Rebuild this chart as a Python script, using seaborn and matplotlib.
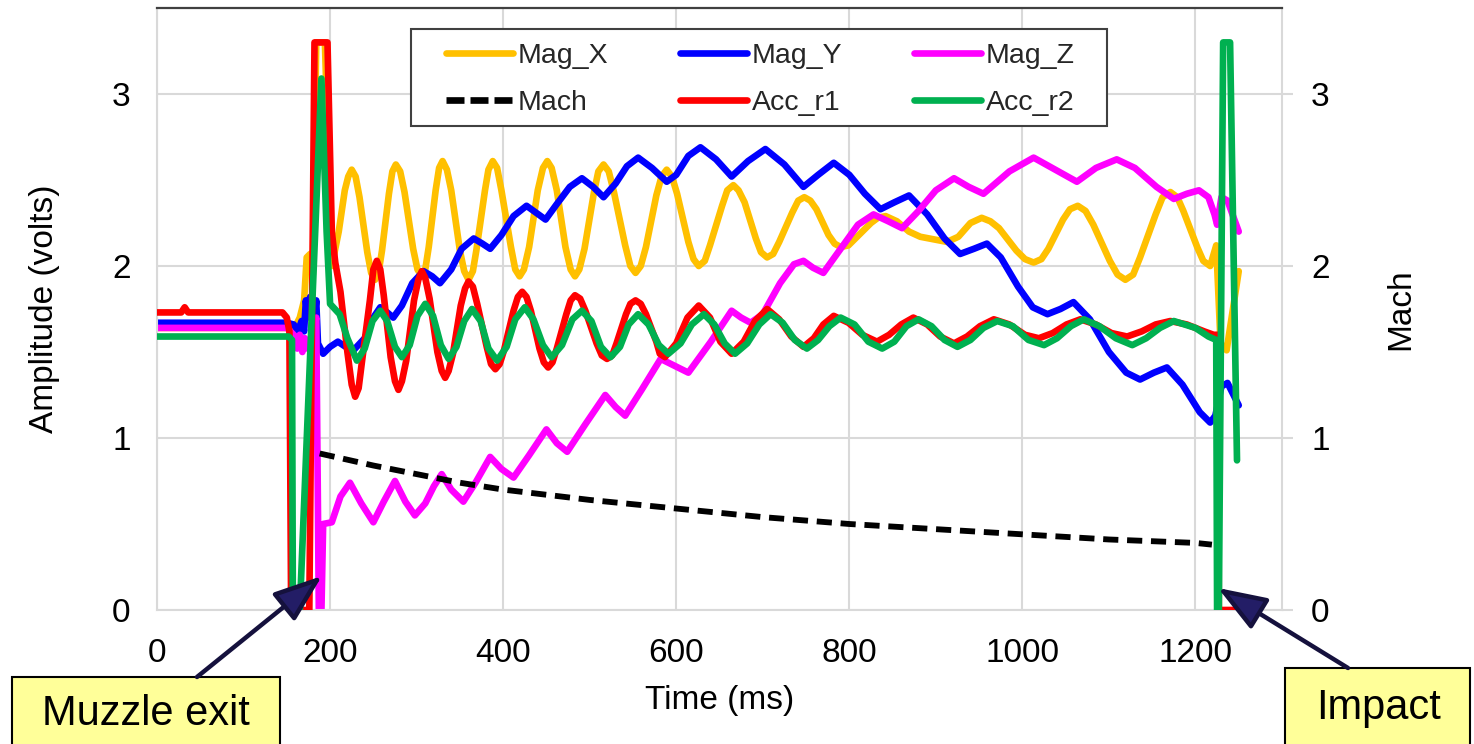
import matplotlib
matplotlib.use("Agg")
import matplotlib.pyplot as plt
import seaborn as sns
from matplotlib.patches import Rectangle, FancyArrowPatch
from matplotlib.lines import Line2D

# ---------------- data ----------------
magx_t = [0,150,158,165,170,173,177,180,184,194,
          202,210,217,221,225,229.5,234,243,247.5,252,
          256,260,268,272,276,281,286,296,301,306,
          310,314,322,326,330,335,340,350,355,360,
          365,369,379,383,388,393,398,409,414,419,
          424,430,440,446,451,456,462,472,478,483,
          488,494,505,510,516,522,528,541,547,553,
          559,565,577,583,589,595,601,614,620,626,
          633,639,653,659,666,672,679,692,698,705,
          712,719,734,741,748,755,762,776,783,790,
          799,807,825,833,842,855,869,882,913,926,
          940,953,963,973,993,1003,1013,1022,1030,1047,
          1055,1064,1073,1082,1101,1110,1119,1128,1136,1154,
          1162,1171,1179,1186,1202,1209,1217,1224,1229,1236,1250]
magx_v = [1.64,1.64,1.63,1.70,1.80,2.05,2.07,1.95,3.30,3.30,
          2.00,2.20,2.44,2.52,2.56,2.52,2.40,2.08,1.96,1.92,
          1.96,2.09,2.42,2.55,2.59,2.55,2.43,2.10,1.98,1.94,
          1.98,2.11,2.44,2.57,2.61,2.56,2.44,2.09,1.97,1.92,
          1.97,2.09,2.44,2.56,2.61,2.57,2.44,2.11,1.98,1.94,
          1.98,2.11,2.44,2.57,2.61,2.57,2.44,2.11,1.98,1.94,
          1.98,2.10,2.43,2.55,2.59,2.55,2.43,2.12,2.00,1.96,
          2.00,2.11,2.41,2.52,2.56,2.52,2.42,2.14,2.04,2.00,
          2.03,2.12,2.35,2.44,2.47,2.44,2.37,2.16,2.08,2.05,
          2.07,2.14,2.31,2.38,2.40,2.38,2.33,2.18,2.13,2.11,
          2.12,2.16,2.25,2.28,2.29,2.26,2.20,2.17,2.14,2.17,
          2.25,2.28,2.26,2.22,2.09,2.04,2.02,2.04,2.10,2.27,
          2.33,2.35,2.32,2.24,2.03,1.95,1.92,1.95,2.05,2.30,
          2.40,2.43,2.40,2.32,2.11,2.03,2.00,2.12,1.55,1.51,1.97]

magy_t = [0,150,158,163,167,170,172,174,177,181,184,186,192,200,209,218,227,240,250,258,266,273,283,295,308,318,327,
          340,352,366,376,385,398,412,427,438,449,462,477,491,504,516,530,543,556,572,589,600,614,628,646,664,683,703,
          725,747,764,782,800,818,836,852,869,890,910,928,944,959,975,995,1012,1029,1044,1059,1078,1100,1120,1136,1152,
          1167,1185,1205,1217,1223,1230,1237,1250]
magy_v = [1.67,1.67,1.66,1.62,1.68,1.62,1.80,1.70,1.82,1.65,1.80,1.55,1.49,1.53,1.56,1.53,1.51,1.58,1.70,1.76,1.73,1.70,
          1.77,1.90,1.97,1.94,1.90,1.98,2.10,2.16,2.13,2.10,2.18,2.29,2.35,2.31,2.27,2.36,2.46,2.51,2.46,2.40,2.48,2.58,
          2.63,2.57,2.49,2.53,2.64,2.69,2.62,2.52,2.61,2.68,2.59,2.46,2.53,2.60,2.53,2.42,2.33,2.37,2.41,2.30,2.16,2.07,
          2.10,2.13,2.05,1.88,1.76,1.72,1.75,1.79,1.69,1.50,1.38,1.34,1.38,1.41,1.31,1.15,1.09,1.13,1.30,1.32,1.19]

magz_t = [0,150,158,162,165,168,171,174,178,184,187,190,192,202,212,223,236,250,262,275,287,298,310,320,329,340,354,
          368,385,398,412,430,450,462,474,495,518,530,541,560,582,598,614,640,664,675,686,700,720,736,747,758,770,790,
          810,828,845,861,880,900,921,938,955,985,1013,1038,1063,1085,1109,1130,1155,1175,1190,1204,1215,1222,1225,
          1230,1237,1250]
magz_v = [1.64,1.64,1.60,1.52,1.60,1.50,1.58,1.52,1.55,1.70,0.00,0.00,0.50,0.51,0.66,0.74,0.62,0.51,0.63,0.75,0.63,0.55,
          0.62,0.72,0.79,0.70,0.63,0.74,0.89,0.82,0.77,0.90,1.05,0.97,0.92,1.08,1.25,1.18,1.13,1.28,1.46,1.42,1.38,1.56,
          1.74,1.70,1.67,1.72,1.90,2.01,2.03,1.99,1.96,2.10,2.24,2.30,2.26,2.22,2.32,2.44,2.51,2.46,2.42,2.55,2.63,2.56,
          2.49,2.57,2.62,2.57,2.46,2.39,2.42,2.44,2.40,2.30,2.24,2.40,2.38,2.20]

mach_t = [188,250,300,350,400,450,500,600,700,800,900,1000,1100,1200,1219]
mach_v = [0.91,0.84,0.79,0.74,0.70,0.67,0.64,0.59,0.54,0.50,0.47,0.44,0.41,0.39,0.38]

acc1_t = [0,28,32,36,145,150,153,155,176,182,
          197,202,206,212,220,225,229,233,237,246,
          250,254,258,262,270,275,279,283,288,297,
          302,306,310,315,324,329,333,337,342,351,
          356,360,365,370,381,386,391,396,401,412,
          417,422,427,432,442,447,452,457,462,473,
          478,483,489,495,508,514,520,526,531,542,
          547,553,559,565,577,581,587,600,613,626,
          639,651,664,678,691,705,719,733,747,759,
          770,782,799,815,832,846,860,874,890,905,
          921,936,951,967,985,1003,1019,1035,1051,1067,
          1085,1103,1121,1138,1154,1171,1190,1210,1221,1226,
          1227,1249]
acc1_v = [1.73,1.73,1.76,1.73,1.73,1.70,1.62,0.00,0.00,3.30,
          3.30,2.20,2.02,1.85,1.50,1.31,1.24,1.29,1.45,1.80,
          1.98,2.03,1.98,1.83,1.47,1.33,1.28,1.33,1.45,1.80,
          1.92,1.97,1.93,1.81,1.50,1.39,1.35,1.39,1.49,1.77,
          1.87,1.91,1.88,1.78,1.53,1.43,1.40,1.43,1.51,1.74,
          1.82,1.85,1.82,1.74,1.52,1.44,1.41,1.44,1.52,1.72,
          1.80,1.83,1.81,1.74,1.55,1.48,1.46,1.48,1.55,1.72,
          1.78,1.80,1.78,1.72,1.56,1.49,1.47,1.55,1.70,1.77,
          1.70,1.56,1.49,1.56,1.68,1.75,1.69,1.59,1.53,1.58,
          1.66,1.71,1.67,1.60,1.56,1.60,1.66,1.70,1.66,1.59,
          1.55,1.59,1.65,1.69,1.66,1.60,1.58,1.61,1.66,1.69,
          1.66,1.61,1.59,1.62,1.66,1.68,1.66,1.62,1.60,1.60,
          0.00,0.00]

acc2_t = [0,152,156,157,165,190,196,200,211,220,231,240,249,258,266,275,283,292,301,310,319,328,337,346,355,364,374,383,
          393,404,414,425,435,446,456,468,480,491,502,513,524,535,545,556,568,580,591,605,618,632,644,656,668,682,696,
          709,723,737,751,764,777,790,806,822,838,852,866,880,895,910,925,940,955,971,989,1007,1025,1040,1056,1071,1089,
          1108,1127,1143,1159,1175,1200,1215,1224,1225,1227,1232,1240,1248]
acc2_v = [1.59,1.59,1.57,0.00,0.00,3.09,2.20,1.78,1.72,1.58,1.45,1.52,1.68,1.74,1.68,1.53,1.47,1.54,1.71,1.78,1.71,1.54,
          1.46,1.53,1.68,1.75,1.68,1.52,1.45,1.53,1.69,1.76,1.69,1.54,1.47,1.54,1.69,1.74,1.68,1.53,1.47,1.53,1.66,1.72,
          1.66,1.54,1.49,1.55,1.66,1.72,1.66,1.55,1.49,1.55,1.66,1.72,1.67,1.57,1.52,1.57,1.65,1.70,1.66,1.56,1.52,1.56,
          1.65,1.69,1.65,1.57,1.53,1.57,1.64,1.68,1.65,1.57,1.54,1.58,1.65,1.69,1.65,1.58,1.54,1.58,1.64,1.68,1.64,1.59,
          1.57,0.00,0.00,3.30,3.30,0.87]

x_ticks = [0, 200, 400, 600, 800, 1000, 1200]
y_ticks = [0, 1, 2, 3]

# ---------------- style ----------------
sns.set_theme(style="white")
plt.rcParams["font.family"] = ["Liberation Sans", "DejaVu Sans"]

W, H = 1474, 744
fig = plt.figure(figsize=(W / 100, H / 100), dpi=100)
fig.patch.set_facecolor("white")


def fx(px):
    return px / W


def fy(py):
    return 1 - py / H


ax = fig.add_axes([fx(157), fy(610), (1282 - 157) / W, (610 - 8) / H])
ax2 = ax.twinx()

LW = 4.8
grid_c = "#d9d9d9"

handles = {}
for name, t, v, c in [("Mag_X", magx_t, magx_v, "#FFC000"),
                      ("Mag_Y", magy_t, magy_v, "#0000FF"),
                      ("Mag_Z", magz_t, magz_v, "#FF00FF")]:
    sns.lineplot(x=t, y=v, ax=ax, color=c, linewidth=LW, sort=False, estimator=None)
    ln = ax.get_lines()[-1]
    ln.set_linewidth(LW)
    ln.set_solid_joinstyle("round")
    ln.set_solid_capstyle("round")
    handles[name] = ln

sns.lineplot(x=mach_t, y=mach_v, ax=ax2, color="black", linewidth=4.2, sort=False, estimator=None)
mline = ax2.get_lines()[-1]
mline.set_linewidth(4.2)
mline.set_dashes([2.6, 1.5])
mline.set_dash_capstyle("butt")
handles["Mach"] = mline

for name, t, v, c in [("Acc_r1", acc1_t, acc1_v, "#FF0000"), ("Acc_r2", acc2_t, acc2_v, "#00B050")]:
    sns.lineplot(x=t, y=v, ax=ax2, color=c, linewidth=LW, sort=False, estimator=None)
    ln = ax2.get_lines()[-1]
    ln.set_linewidth(LW)
    ln.set_solid_joinstyle("round")
    ln.set_solid_capstyle("round")
    handles[name] = ln

for a in (ax, ax2):
    if a.get_legend() is not None:
        a.get_legend().remove()
    a.set_xlim(0, 1300)
    a.set_ylim(0, 3.5)
    a.set_yticks(y_ticks)
    a.set_xlabel("")
    a.set_ylabel("")

ax.set_xticks(x_ticks)
ax.grid(True, color=grid_c, lw=1.5)
ax.set_axisbelow(True)
for s in ["left", "right", "bottom"]:
    ax.spines[s].set_color(grid_c)
    ax.spines[s].set_linewidth(1.5)
ax.spines["top"].set_color("#404040")
ax.spines["top"].set_linewidth(1.6)
for s in ax2.spines.values():
    s.set_visible(False)

ax.tick_params(axis="y", length=0, pad=19, labelsize=24, labelcolor="black")
ax.tick_params(axis="x", length=0, pad=20, labelsize=24, labelcolor="black")
ax2.tick_params(axis="y", length=8, width=1.5, color=grid_c, pad=13, labelsize=24, labelcolor="black")

ax.set_xlabel("Time (ms)", fontsize=24, color="black", labelpad=12)
ax.set_ylabel("Amplitude (volts)", fontsize=24, color="black")
ax.yaxis.set_label_coords(-0.086, 0.5)
ax2.set_ylabel("Mach", fontsize=24, color="black", rotation=90)
ax2.yaxis.set_label_coords(1.0916, 0.5)

# ---------------- legend ----------------
order = ["Mag_X", "Mach", "Mag_Y", "Acc_r1", "Mag_Z", "Acc_r2"]
leg_handles = []
for n in order:
    h = handles[n]
    lh = Line2D([], [], color=h.get_color(), lw=LW, solid_capstyle="round")
    if n == "Mach":
        lh.set_dashes([2.7, 0.9])
        lh.set_dash_capstyle("butt")
    leg_handles.append(lh)
fig.add_artist(Rectangle((fx(411), fy(126)), (1107 - 411) / W, (126 - 29) / H,
                         transform=fig.transFigure, fc="white", ec="#404040", lw=1.5, zorder=4))
leg = fig.legend(leg_handles, order, ncol=3, loc="upper left",
                 bbox_to_anchor=(fx(446), fy(43)), bbox_transform=fig.transFigure,
                 frameon=False, fontsize=20.5, handlelength=2.35, handletextpad=0.18,
                 columnspacing=2.5, labelspacing=0.72, borderpad=0, borderaxespad=0)
leg.set_zorder(5)

# ---------------- annotation boxes & arrows ----------------
box_c = "#FFFF99"
fig.add_artist(Rectangle((fx(12), fy(760)), (280 - 12) / W, (760 - 677) / H,
                         transform=fig.transFigure, fc=box_c, ec="black", lw=1.5, zorder=6))
fig.text(fx(146), fy(714), "Muzzle exit", fontsize=30, ha="center", va="center", color="black", zorder=7)
fig.add_artist(Rectangle((fx(1285), fy(760)), (1470 - 1285) / W, (760 - 668) / H,
                         transform=fig.transFigure, fc=box_c, ec="black", lw=1.5, zorder=6))
fig.text(fx(1379), fy(708), "Impact", fontsize=30, ha="center", va="center", color="black", zorder=7)

navy = "#231D66"
for (x0, y0), (x1, y1) in [((197, 677), (322, 576)), ((1348, 668), (1218, 588))]:
    arr = FancyArrowPatch((fx(x0), fy(y0)), (fx(x1), fy(y1)), transform=fig.transFigure,
                          arrowstyle="-|>,head_length=30,head_width=11", mutation_scale=1,
                          shrinkA=0, shrinkB=0, fc=navy, ec="#15113d", lw=3.2, zorder=8)
    fig.add_artist(arr)

fig.savefig("out.png", dpi=100, facecolor="white")
